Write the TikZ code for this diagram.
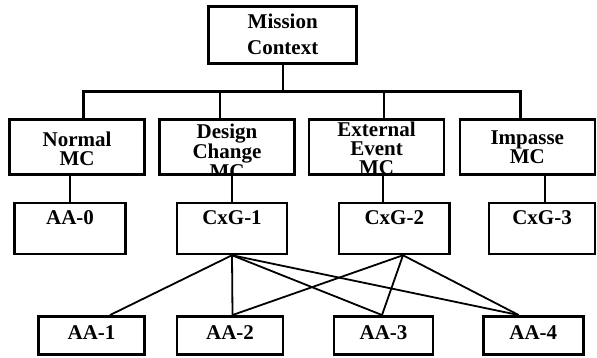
\documentclass[tikz,border=0pt]{standalone}
\usepackage{fontspec}
\setmainfont{Liberation Serif}
\usepackage{tikz}
\usetikzlibrary{positioning}

\begin{document}
\begin{tikzpicture}[
  x=1pt, y=-1pt,
  box/.style={draw, line width=2.5pt, inner sep=0pt},
  txt/.style={draw=none, minimum width=0pt, minimum height=0pt, inner sep=0pt,
    font=\fontsize{21}{20}\selectfont\bfseries, align=center},
  lbl/.style 2 args={path picture={\node[txt, below=#1 of path picture bounding box.north] {#2};}},
  top/.style={box, minimum width=148pt, minimum height=57pt},
  mcbox/.style={box, minimum width=135pt, minimum height=55.4pt},
  cxbox/.style={box, minimum height=51pt},
  aabox/.style={box, minimum height=38.4pt},
  tree/.style={line width=2.4pt},
  stem/.style={line width=2.2pt},
  link/.style={line width=1.8pt}
]
\useasboundingbox (0,0) rectangle (597,357);

\node[top, lbl={6.4pt}{Mission\\[6pt]Context}] (ctx) at (282.7,35.2) {};

\node[mcbox, lbl={11pt}{Normal\\[-1pt]MC}] (nmc) at (77,147) {};
\node[mcbox, lbl={3.4pt}{Design\\Change\\MC}] (dmc) at (227,147) {};
\node[mcbox, lbl={1.6pt}{External\\[-1pt]Event\\[-1pt]MC}] (emc) at (376.5,147) {};
\node[mcbox, lbl={10.4pt}{Impasse\\[-1pt]MC}] (imc) at (527.25,147) {};

\node[cxbox, minimum width=110.6pt, lbl={6.6pt}{AA-0}] (aa0) at (70,228.5) {};
\node[cxbox, minimum width=110pt, lbl={6.6pt}{CxG-1}] (cxg1) at (232,228.5) {};
\node[cxbox, minimum width=110.7pt, lbl={6.6pt}{CxG-2}] (cxg2) at (394.3,228.5) {};
\node[cxbox, minimum width=106pt, lbl={6.6pt}{CxG-3}] (cxg3) at (542,228.5) {};

\node[aabox, minimum width=105.6pt, lbl={8pt}{AA-1}] (aa1) at (91.5,335.5) {};
\node[aabox, minimum width=106pt, lbl={8pt}{AA-2}] (aa2) at (230,335.5) {};
\node[aabox, minimum width=99pt, lbl={8pt}{AA-3}] (aa3) at (383.5,335.5) {};
\node[aabox, minimum width=100pt, lbl={8pt}{AA-4}] (aa4) at (533.3,335.5) {};

\coordinate (busw) at (83.3,91.3);
\coordinate (buse) at (520.3,91.3);
\draw[tree] (ctx.south) -- (ctx.south |- busw);
\draw[tree] ([xshift=-1.2pt]busw) -- ([xshift=1.2pt]buse);
\foreach \x/\b in {83.3/nmc, 220/dmc, 383.7/emc, 520.3/imc}
  \draw[tree] (\x,91.3) -- (\x,0 |- \b.north);

\foreach \x/\a/\b in {70/nmc/aa0, 232/dmc/cxg1, 383/emc/cxg2, 545/imc/cxg3}
  \draw[stem] (\x,0 |- \a.south) -- (\x,0 |- \b.north);

\coordinate (hub1) at (cxg1.south);
\coordinate (hub2) at ([xshift=8.7pt]cxg2.south);
\coordinate (pin1) at ([xshift=18.5pt]aa1.north);
\coordinate (pin2) at ([xshift=2.5pt]aa2.north);
\coordinate (pin3) at ([xshift=-1.5pt]aa3.north);
\coordinate (pin4) at ([xshift=-14.6pt]aa4.north);
\foreach \p in {pin1, pin2, pin3, pin4}
  \draw[link] (hub1) -- (\p);
\foreach \p in {pin2, pin3, pin4}
  \draw[link] (hub2) -- (\p);
\end{tikzpicture}
\end{document}
